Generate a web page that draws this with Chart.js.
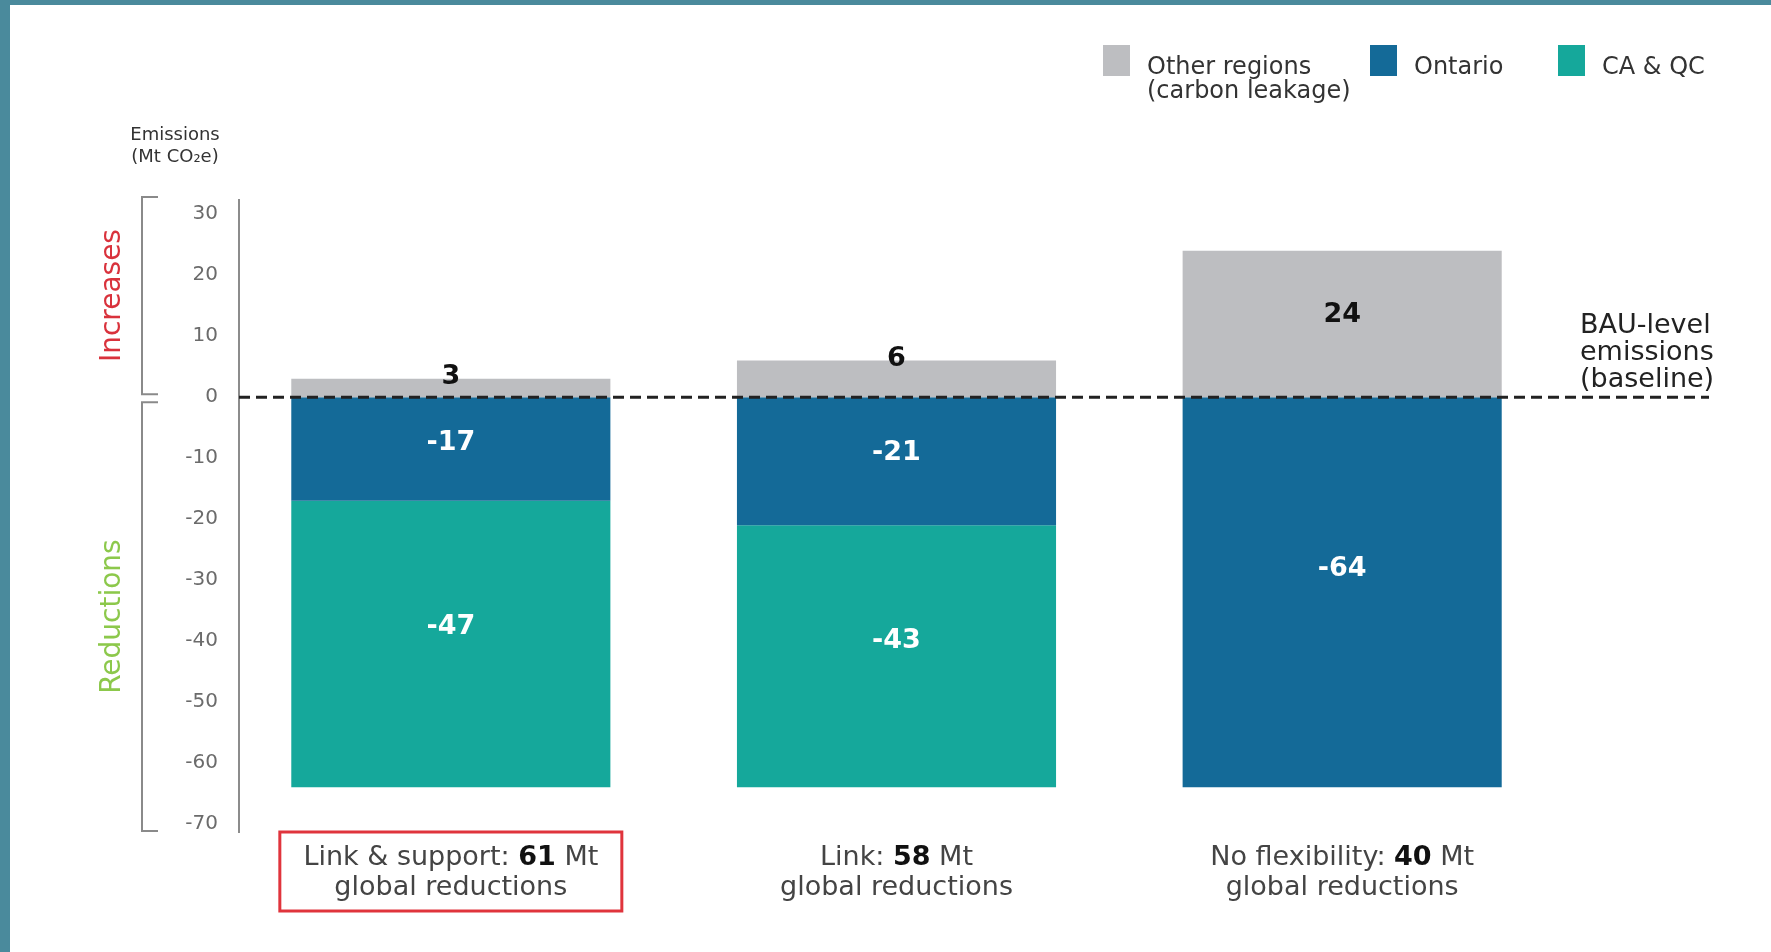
<!DOCTYPE html>
<html>
<head>
<meta charset="utf-8">
<title>Emissions by scenario</title>
<script src="https://cdn.jsdelivr.net/npm/chart.js@4.4.1/dist/chart.umd.min.js"></script>
<style>
    html, body { margin: 0; padding: 0; background: #fff; }
    .wrap { position: relative; width: 1771px; height: 952px; overflow: hidden; background: #fff; }
    .wrap::before { content: ''; position: absolute; left: 0; top: 0; width: 10px; height: 100%; background: #4a8a9c; z-index: 2; }
    .wrap::after { content: ''; position: absolute; left: 0; top: 0; width: 100%; height: 5px; background: #4a8a9c; z-index: 2; }
    canvas { position: absolute; left: 0; top: 0; }
</style>
</head>
<body>
<div class="wrap"><canvas id="emissionsChart" width="1771" height="952"></canvas></div>
<script>
// scenario data (Mt CO2e vs BAU)
const scenarios = ['Link & support', 'Link', 'No flexibility'];
const globalReductions = [61, 58, 40];
const otherRegions = [3, 6, 24];
const ontario = [-17, -21, -64];
const caQc = [-47, -43, 0];
const seriesNames = [['Other regions', '(carbon leakage)'], ['Ontario'], ['CA & QC']];
const yTicks = [30, 20, 10, 0, -10, -20, -30, -40, -50, -60, -70];
const yTitle = ['Emissions', '(Mt CO\u2082e)'];
const sideLabels = ['Increases', 'Reductions'];
const baselineLabel = ['BAU-level', 'emissions', '(baseline)'];
const highlighted = 0;

const FONT = '"DejaVu Sans", sans-serif';
const colors = ['#bdbec1', '#146a98', '#15a89b'];

const decorations = {
    id: 'decorations',
    afterDraw(chart) {
        const {ctx, chartArea: area, scales: {x, y}} = chart;
        const y0 = y.getPixelForValue(0);
        const axisX = area.left + 11;
        ctx.save();

        // y axis line (sits a little inside the plot area)
        ctx.strokeStyle = '#8c8c8c';
        ctx.lineWidth = 2;
        ctx.beginPath();
        ctx.moveTo(axisX, area.top + 3);
        ctx.lineTo(axisX, area.bottom);
        ctx.stroke();

        // value labels on the bar segments
        ctx.textAlign = 'center';
        ctx.textBaseline = 'middle';
        ctx.font = 'bold 27px ' + FONT;
        chart.data.datasets.forEach((ds, di) => {
            chart.getDatasetMeta(di).data.forEach((bar, i) => {
                const v = ds.data[i];
                if (!v) return;
                const top = Math.min(bar.y, bar.base);
                const h = Math.abs(bar.base - bar.y);
                const cy = h < 60 ? top - 2 : top + h * 0.44;
                ctx.fillStyle = di === 0 ? '#111' : '#fff';
                ctx.fillText(String(v), bar.x, cy);
            });
        });

        // BAU baseline
        ctx.setLineDash([11, 6]);
        ctx.lineWidth = 3;
        ctx.strokeStyle = '#222';
        ctx.beginPath();
        ctx.moveTo(axisX, y0);
        ctx.lineTo(chart.width - 62, y0);
        ctx.stroke();
        ctx.setLineDash([]);

        ctx.textAlign = 'left';
        ctx.textBaseline = 'alphabetic';
        ctx.fillStyle = '#222';
        ctx.font = '27px ' + FONT;
        baselineLabel.forEach((t, i) => ctx.fillText(t, chart.width - 191, y0 - 64 + i * 27));

        // brackets left of the axis
        const bx = area.left - 86, tx = area.left - 70;
        ctx.strokeStyle = '#8a8a8a';
        ctx.lineWidth = 2;
        const bracket = (a, b) => {
            ctx.beginPath();
            ctx.moveTo(tx, a); ctx.lineTo(bx, a); ctx.lineTo(bx, b); ctx.lineTo(tx, b);
            ctx.stroke();
        };
        const upTop = area.top + 1, upBot = y0 - 3, loTop = y0 + 5, loBot = area.bottom - 2;
        bracket(upTop, upBot);
        bracket(loTop, loBot);

        ctx.font = '28px ' + FONT;
        ctx.textAlign = 'center';
        ctx.textBaseline = 'middle';
        [[sideLabels[0], '#d9323c', (upTop + upBot) / 2], [sideLabels[1], '#8cc84b', (loTop + loBot) / 2]].forEach(([t, c, m]) => {
            ctx.save();
            ctx.translate(area.left - 115, m);
            ctx.rotate(-Math.PI / 2);
            ctx.fillStyle = c;
            ctx.fillText(t, 0, 0);
            ctx.restore();
        });

        // axis title
        ctx.font = '18px ' + FONT;
        ctx.fillStyle = '#333';
        ctx.textBaseline = 'alphabetic';
        yTitle.forEach((t, i) => ctx.fillText(t, area.left - 53, area.top - 56 + i * 22));

        // category labels with bold totals
        scenarios.forEach((name, i) => {
            const cx = x.getPixelForValue(i);
            const a = name + ': ', b = String(globalReductions[i]), c = ' Mt';
            ctx.font = '27px ' + FONT;
            const wa = ctx.measureText(a).width, wc = ctx.measureText(c).width;
            ctx.font = 'bold 27px ' + FONT;
            const wb = ctx.measureText(b).width;
            const sx = cx - (wa + wb + wc) / 2;
            const by = area.bottom + 32;
            ctx.textAlign = 'left';
            ctx.font = '27px ' + FONT;
            ctx.fillStyle = '#444';
            ctx.fillText(a, sx, by);
            ctx.font = 'bold 27px ' + FONT;
            ctx.fillStyle = '#111';
            ctx.fillText(b, sx + wa, by);
            ctx.font = '27px ' + FONT;
            ctx.fillStyle = '#444';
            ctx.fillText(c, sx + wa + wb, by);
            ctx.textAlign = 'center';
            ctx.fillText('global reductions', cx, by + 30);

            if (i === highlighted) {
                ctx.strokeStyle = '#e0343c';
                ctx.lineWidth = 3;
                ctx.strokeRect(cx - 171, area.bottom - 1, 342, 79);
            }
        });

        // legend
        const legendX = [1103, 1370, 1558];
        ctx.textAlign = 'left';
        ctx.font = '24px ' + FONT;
        seriesNames.forEach((lines, i) => {
            ctx.fillStyle = colors[i];
            ctx.fillRect(legendX[i], 45, 27, 31);
            ctx.fillStyle = '#333';
            lines.forEach((t, j) => ctx.fillText(t, legendX[i] + 44, 74 + j * 24));
        });

        ctx.restore();
    }
};

new Chart(document.getElementById('emissionsChart'), {
    type: 'bar',
    data: {
        labels: scenarios,
        datasets: [
            { label: seriesNames[0].join(' '), data: otherRegions, backgroundColor: colors[0] },
            { label: seriesNames[1].join(' '), data: ontario, backgroundColor: colors[1] },
            { label: seriesNames[2].join(' '), data: caQc, backgroundColor: colors[2] },
        ]
    },
    options: {
        responsive: false,
        animation: false,
        barPercentage: 0.716,
        categoryPercentage: 1,
        layout: {
            padding: { left: 173, right: 206, top: 196, bottom: 119 }
        },
        plugins: {
            legend: { display: false },
            tooltip: { enabled: false }
        },
        scales: {
            x: {
                stacked: true,
                display: false
            },
            y: {
                stacked: true,
                min: -71.5,
                max: 33,
                afterBuildTicks: s => { s.ticks = yTicks.map(v => ({ value: v })); },
                afterFit: s => { s.width = 55; },
                grid: { display: false, drawTicks: false },
                border: { display: false },
                ticks: {
                    color: '#6b6b6b',
                    padding: 10,
                    font: { family: FONT, size: 20 }
                }
            }
        }
    },
    plugins: [decorations]
});
</script>
</body>
</html>
